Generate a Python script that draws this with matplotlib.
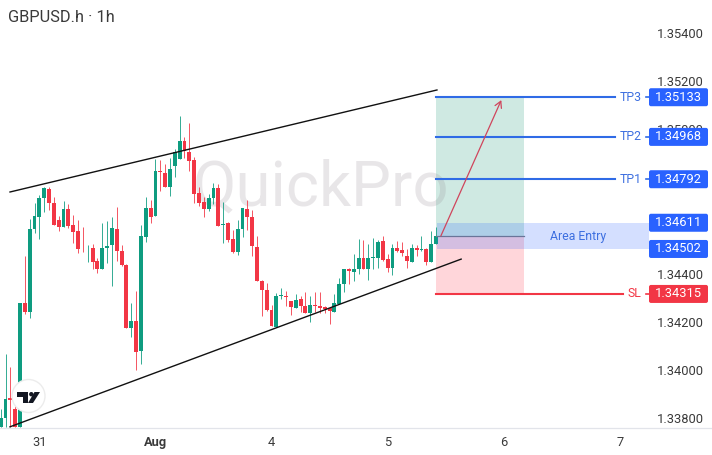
import numpy as np
import matplotlib
matplotlib.use("Agg")
import matplotlib.pyplot as plt
from matplotlib.patches import Rectangle, Circle, Polygon, FancyBboxPatch
from matplotlib.transforms import Affine2D

plt.rcParams['font.family'] = ['Roboto', 'DejaVu Sans']

# Candle prices in 1e-5 units
opens = [133763,133798,133881,133839,133763,134276,134241,134585,134636,134714,134751,134692,134622,134595,134667,134602,134577,134503,134509,134507,134451,134419,134505,134517,134586,134494,134435,134173,134204,134078,134553,134672,134639,134828,134816,134760,134847,134877,134952,134907,134872,134733,134697,134667,134715,134756,134602,134611,134542,134489,134587,134668,134633,134511,134370,134331,134247,134179,134306,134305,134285,134256,134296,134265,134235,134270,134265,134259,134256,134241,134273,134356,134418,134407,134418,134463,134420,134464,134464,134535,134459,134425,134506,134497,134472,134450,134508,134496,134503,134449,134524]
closes = [133798,133877,133874,133763,134276,134241,134585,134639,134714,134754,134692,134603,134592,134667,134598,134574,134502,134501,134511,134448,134419,134505,134516,134589,134494,134435,134173,134203,134075,134556,134672,134636,134828,134822,134760,134836,134905,134952,134908,134869,134732,134692,134667,134715,134756,134599,134604,134539,134489,134587,134671,134636,134513,134370,134331,134247,134181,134306,134309,134301,134260,134292,134265,134235,134269,134266,134258,134253,134245,134276,134356,134417,134411,134418,134463,134418,134463,134467,134533,134456,134424,134506,134495,134485,134452,134508,134499,134502,134449,134524,134556]
highs = [133835,134064,134013,133867,134276,134473,134625,134692,134726,134758,134761,134719,134639,134701,134688,134643,134622,134595,134518,134523,134463,134609,134620,134636,134675,134519,134439,134276,134327,134602,134719,134706,134875,134872,134855,134879,134916,135055,134969,135024,134886,134761,134719,134731,134775,134772,134696,134616,134583,134622,134673,134705,134664,134556,134373,134359,134269,134320,134338,134328,134287,134317,134306,134324,134306,134324,134324,134265,134262,134317,134382,134417,134421,134481,134542,134539,134522,134546,134539,134556,134481,134522,134535,134532,134504,134522,134517,134556,134507,134575,134592]
lows = [133763,133763,133763,133763,133763,134232,134214,134567,134542,134657,134664,134602,134578,134595,134588,134528,134484,134491,134449,134417,134401,134419,134442,134349,134453,134433,134173,134137,133999,134022,134532,134609,134639,134744,134760,134722,134800,134877,134879,134826,134695,134682,134634,134661,134689,134598,134528,134532,134486,134477,134553,134581,134472,134370,134223,134244,134181,134179,134296,134265,134227,134256,134241,134234,134198,134241,134234,134234,134191,134241,134273,134324,134356,134370,134400,134417,134373,134420,134421,134453,134406,134392,134490,134472,134423,134449,134472,134492,134436,134449,134524]

y_ticks = [1.338, 1.340, 1.342, 1.344, 1.350, 1.352, 1.354]
x_ticks = [8, 32, 56, 80, 104, 128]
x_labels = ['31', 'Aug', '4', '5', '6', '7']

tp_names = ['TP3', 'TP2', 'TP1']
tp_levels = [1.35133, 1.34968, 1.34792]
sl_level = 1.34315
area_top = 1.34611
area_bottom = 1.34502
entry_level = 1.34556

upper_x, upper_y = [1.93, 90.2], [1.34739, 1.35163]
lower_x, lower_y = [1.93, 95.2], [1.33763, 1.34460]
arrow_x, arrow_y = [91.0, 103.5], [1.34556, 1.35121]

GREEN, RED, BLUE, TAGBLUE = '#0E9C80', '#F23645', '#2F6BE6', '#2962FF'

fig = plt.figure(figsize=(7.12, 4.55), dpi=100)
ax = fig.add_axes([0, 27 / 455, 1, 428 / 455])
ax.set_xlim(-0.139, 147.06)
ax.set_ylim(1.33758, 1.35537)
for s in ['top', 'left', 'right']:
    ax.spines[s].set_visible(False)
ax.spines['bottom'].set_color('#E2E4EA')
ax.spines['bottom'].set_linewidth(0.9)

ax.yaxis.tick_right()
ax.set_yticks(y_ticks)
ax.set_yticklabels([f'{v:.5f}' for v in y_ticks], ha='left')
ax.tick_params(axis='y', length=0, pad=-39.7, labelsize=9.3, labelcolor='#3A3A3A')
ax.set_xticks(x_ticks)
ax.set_xticklabels(x_labels)
ax.tick_params(axis='x', length=0, pad=5.5, labelsize=9.3, labelcolor='#3A3A3A')
ax.get_xticklabels()[1].set_fontweight('bold')

px = lambda p: (p - 0.67) / 4.837

# Watermark
ax.text(px(193), 1.354 - (205 - 33) * 4.158e-5, 'QuickPro', fontsize=45.5, color='#8F858F', alpha=0.2,
        ha='left', va='baseline', zorder=2)

# Candles
idx = np.arange(len(opens))
o, c, h, l = [np.array(a) / 1e5 for a in (opens, closes, highs, lows)]
cols = [GREEN if cc >= oo else RED for oo, cc in zip(o, c)]
ax.vlines(idx, l, h, colors=cols, linewidth=0.7, alpha=0.85, zorder=3)
ax.bar(idx, np.maximum(np.abs(c - o), 2e-5), bottom=np.minimum(o, c), width=0.8, color=cols, zorder=3.1)

# Target / stop zones
x0, x1 = px(436), px(524)
ax.add_patch(Rectangle((x0, entry_level), x1 - x0, tp_levels[0] - entry_level, color='#CFE9E2', lw=0, zorder=1.5))
ax.add_patch(Rectangle((x0, sl_level), x1 - x0, entry_level - sl_level, color='#FFD6DA', lw=0, zorder=1.5))
ax.plot([x0, x1], [entry_level] * 2, color='#7A7A80', lw=0.9, zorder=4)

# Entry area
ax.add_patch(Rectangle((px(437), area_bottom), px(649) - px(437), area_top - area_bottom,
                       color='#2962FF', alpha=0.2, lw=0, zorder=4))
ax.text(px(578), entry_level, 'Area Entry', color='#3D6FE0', fontsize=8.8, ha='center', va='center', zorder=5)

# Trend lines
ax.plot(upper_x, upper_y, color='#111111', lw=1.0, zorder=4.5)
ax.plot(lower_x, lower_y, color='#111111', lw=1.0, zorder=4.5)

# Arrow
ax.annotate('', xy=(arrow_x[1], arrow_y[1]), xytext=(arrow_x[0], arrow_y[0]),
            arrowprops=dict(arrowstyle='->,head_length=0.45,head_width=0.25', color='#D0455C', lw=0.9,
                            shrinkA=0, shrinkB=0), zorder=6)

pxt = Affine2D().scale(1, -1).translate(0, 455)

def tag(y, color):
    yp = 33 + (1.354 - y) / 4.158e-5
    fig.add_artist(FancyBboxPatch((651, yp - 7), 55, 14, boxstyle='round,pad=2,rounding_size=2',
                                  transform=pxt, fc=color, ec='none', zorder=10))
    fig.text(678.3 / 712, 1 - yp / 455, f'{y:.5f}', color='white', fontsize=9.3,
             ha='center', va='center', zorder=11)

# Level lines and labels
for name, lv in zip(tp_names, tp_levels):
    ax.plot([x0, px(615)], [lv, lv], color=BLUE, lw=1.5, zorder=5)
    ax.text(px(630.5), lv, name, color='#3D6FE0', fontsize=8.8, ha='center', va='center', zorder=5)
    ax.plot([px(646), px(649)], [lv, lv], color=BLUE, lw=1.2, zorder=5)
    tag(lv, TAGBLUE)
ax.plot([x0, px(623)], [sl_level, sl_level], color=RED, lw=1.5, zorder=5)
ax.text(px(634), sl_level, 'SL', color=RED, fontsize=8.8, ha='center', va='center', zorder=5)
ax.plot([px(646), px(649)], [sl_level, sl_level], color=RED, lw=1.2, zorder=5)
tag(area_top, TAGBLUE)
tag(area_bottom, TAGBLUE)
tag(sl_level, RED)

# Title
fig.text(8 / 712, 1 - 17 / 455, 'GBPUSD.h · 1h', fontsize=11.8, color='#3A3A3A', ha='left', va='center')

# TradingView badge, placed in image pixels
fig.add_artist(Circle((28.5, 396), 16.5, transform=pxt, fc='white', ec='#ECECEC', lw=1, zorder=20))
for pts in ([(17, 392), (28, 392), (28, 403), (22.5, 403), (22.5, 396.5), (17, 396.5)],
            [(34.5, 392), (40, 392), (33, 403), (28, 403)]):
    fig.add_artist(Polygon(pts, closed=True, transform=pxt, fc='#131722', ec='none', zorder=21))
fig.add_artist(Circle((31.3, 394.2), 2.2, transform=pxt, fc='#131722', ec='none', zorder=21))

fig.savefig('out.png', dpi=100)
